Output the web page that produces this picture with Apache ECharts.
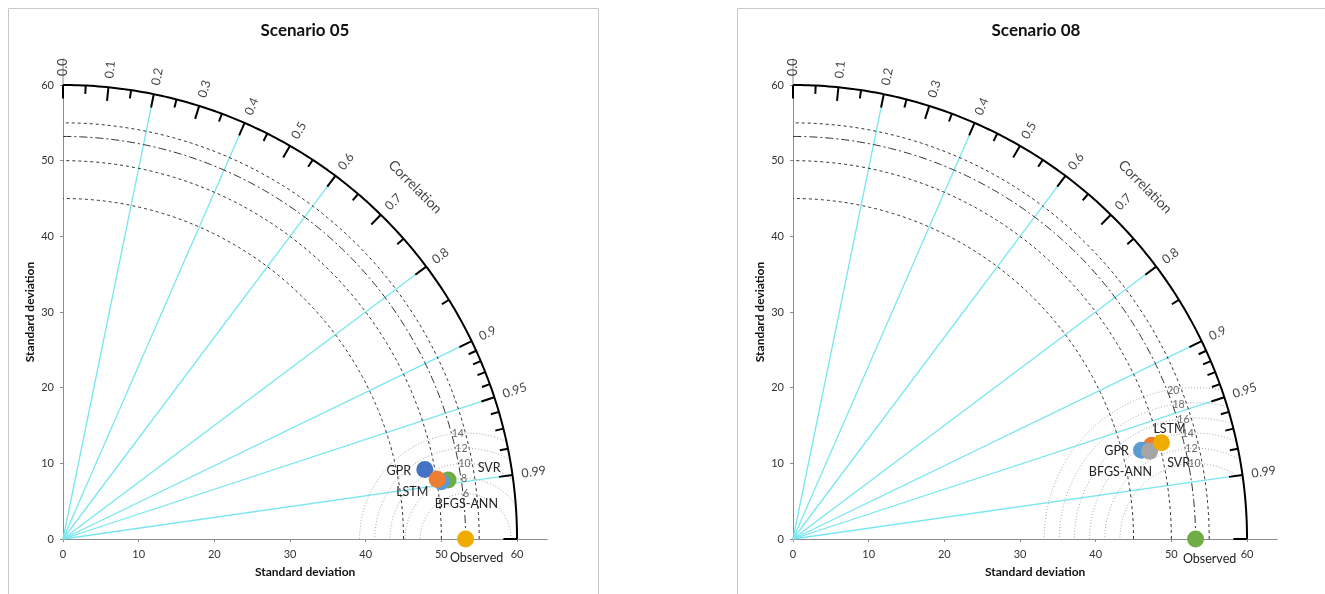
<!DOCTYPE html>
<html>
<head>
<meta charset="utf-8">
<script src="https://cdn.jsdelivr.net/npm/echarts@6/dist/echarts.min.js"></script>
<style>
html, body { margin: 0; padding: 0; background: #fff; }
#chart { width: 1325px; height: 594px; }
</style>
</head>
<body>
<div id="chart"></div>
<script>
// correlation scale of the Taylor diagram
var corrLabelValues = [0.0, 0.1, 0.2, 0.3, 0.4, 0.5, 0.6, 0.7, 0.8, 0.9, 0.95, 0.99];
var corrLabelTexts = ['0.0', '0.1', '0.2', '0.3', '0.4', '0.5', '0.6', '0.7', '0.8', '0.9', '0.95', '0.99'];
var corrMajorTicks = [0.0, 0.1, 0.2, 0.3, 0.4, 0.5, 0.6, 0.7, 0.8, 0.9, 0.95, 0.99, 1.0];
var corrMinorTicks = [0.05, 0.15, 0.25, 0.35, 0.45, 0.55, 0.65, 0.75, 0.85, 0.91, 0.92, 0.93, 0.94, 0.96, 0.97, 0.98];
var corrRays = [0.2, 0.4, 0.6, 0.8, 0.9, 0.95, 0.99];

// standard deviation scale
var stdTicks = [0, 10, 20, 30, 40, 50, 60];
var stdArcs = [45, 50, 55];
var stdMax = 60;

// Scenario 05
var s05Names = ['GPR', 'SVR', 'BFGS-ANN', 'LSTM'];
var s05Std = [48.69, 51.49, 50.57, 50.08];
var s05Corr = [0.982, 0.9885, 0.9887, 0.9875];
var s05ObsStd = 53.2;
var s05Rms = [6, 8, 10, 12, 14];

// Scenario 08
var s08Names = ['SVR', 'GPR', 'BFGS-ANN', 'LSTM'];
var s08Std = [48.99, 47.54, 48.51, 50.33];
var s08Corr = [0.9675, 0.969, 0.971, 0.9676];
var s08ObsStd = 53.2;
var s08Rms = [10, 12, 14, 16, 18, 20];

var FONT = 'Lato, "Open Sans", sans-serif';

// colours + label offsets (px) per marker
var s05Style = {
    'GPR':      {color: '#4472C4', offset: [-26, 2]},
    'SVR':      {color: '#70AD47', offset: [41, -12]},
    'BFGS-ANN': {color: '#5B9BD5', offset: [25, 22]},
    'LSTM':     {color: '#ED7D31', offset: [-25, 13]},
    'Observed': {color: '#EEAD00', offset: [11, 19]}
};
var s08Style = {
    'SVR':      {color: '#ED7D31', offset: [27, 18]},
    'GPR':      {color: '#5B9BD5', offset: [-25, 1]},
    'BFGS-ANN': {color: '#A5A5A5', offset: [-29, 21]},
    'LSTM':     {color: '#EEAD00', offset: [8, -14]},
    'Observed': {color: '#70AD47', offset: [14, 20]}
};

function polar(r, c) {
    return [r * c, r * Math.sqrt(Math.max(0, 1 - c * c))];
}

function panelSeries(idx, names, stds, corrs, obsStd, rmsList, style) {
    var list = [];
    function line(data, ls, z) {
        list.push({
            type: 'line', xAxisIndex: idx, yAxisIndex: idx, data: data,
            showSymbol: false, symbol: 'none', silent: true, clip: false,
            lineStyle: ls, z: z
        });
    }
    function arc(R) {
        var pts = [];
        for (var i = 0; i <= 180; i++) {
            var a = i / 180 * Math.PI / 2;
            pts.push([R * Math.cos(a), R * Math.sin(a)]);
        }
        return pts;
    }

    // correlation rays
    corrRays.forEach(function (c) {
        line([[0, 0], polar(stdMax, c)], {color: '#78E6F0', width: 1.3}, 2);
    });

    // std dev arcs
    stdArcs.forEach(function (R) {
        line(arc(R), {color: '#333', width: 1, type: [3, 3]}, 3);
    });
    line(arc(obsStd), {color: '#333', width: 1, type: [8, 3, 2, 3]}, 3);

    // centred RMS arcs around observed, clipped at outer arc
    rmsList.forEach(function (d) {
        var c = obsStd;
        var k = (stdMax * stdMax - c * c - d * d) / (2 * c * d);
        var phi0 = k >= 1 ? 0 : Math.acos(Math.max(-1, k));
        var pts = [];
        for (var i = 0; i <= 120; i++) {
            var p = phi0 + (Math.PI - phi0) * i / 120;
            pts.push([c + d * Math.cos(p), d * Math.sin(p)]);
        }
        line(pts, {color: '#aaa', width: 1, type: [1, 2]}, 3);
    });

    // outer arc + ticks
    line(arc(stdMax), {color: '#000', width: 2}, 5);
    corrMajorTicks.forEach(function (c) {
        line([polar(stdMax - 1.8, c), polar(stdMax, c)], {color: '#000', width: 2}, 5);
    });
    corrMinorTicks.forEach(function (c) {
        line([polar(stdMax - 1.1, c), polar(stdMax, c)], {color: '#000', width: 2}, 5);
    });
    // y axis extension above 60
    line([[0, stdMax], [0, 63.5]], {color: '#8c8c8c', width: 1}, 4);

    // correlation labels
    list.push({
        type: 'scatter', xAxisIndex: idx, yAxisIndex: idx, silent: true, clip: false,
        symbolSize: 0, z: 6,
        data: corrLabelValues.map(function (c, i) {
            return {
                name: corrLabelTexts[i], value: polar(61.2, c),
                label: {rotate: Math.acos(c) * 180 / Math.PI}
            };
        }),
        label: {
            show: true, position: 'inside', align: 'left', verticalAlign: 'middle',
            formatter: '{b}', color: '#111', fontSize: 12.5, fontFamily: FONT
        }
    });
    // axis title along the arc
    list.push({
        type: 'scatter', xAxisIndex: idx, yAxisIndex: idx, silent: true, clip: false,
        symbolSize: 0, z: 6,
        data: [{name: 'Correlation', value: polar(65.8, Math.SQRT1_2)}],
        label: {
            show: true, position: 'inside', rotate: -45, align: 'center', verticalAlign: 'middle',
            formatter: '{b}', color: '#111', fontSize: 14, fontFamily: FONT
        }
    });

    // RMS labels where each arc meets the observed std arc
    list.push({
        type: 'scatter', xAxisIndex: idx, yAxisIndex: idx, silent: true, clip: false,
        symbolSize: 0, z: 6,
        data: rmsList.map(function (d) {
            var x = obsStd - d * d / (2 * obsStd);
            return {name: String(d), value: [x, Math.sqrt(obsStd * obsStd - x * x)]};
        }),
        label: {
            show: true, position: 'inside', align: 'left', verticalAlign: 'middle',
            formatter: '{b}', color: '#444', fontSize: 10.5, fontFamily: FONT
        }
    });

    // models + observed
    var pts = names.map(function (n, i) {
        return {
            name: n, value: polar(stds[i], corrs[i]),
            itemStyle: {color: style[n].color}, label: {offset: style[n].offset}
        };
    });
    pts.unshift({
        name: 'Observed', value: [obsStd, 0],
        itemStyle: {color: style['Observed'].color}, label: {offset: style['Observed'].offset}
    });
    list.push({
        type: 'scatter', xAxisIndex: idx, yAxisIndex: idx, silent: true, clip: false,
        symbolSize: 17, z: 10, data: pts,
        itemStyle: {opacity: 1},
        label: {
            show: true, position: 'inside', formatter: '{b}',
            color: '#222', fontSize: 12.5, fontFamily: FONT
        }
    });
    return list;
}

function xAxisFor(idx) {
    return {
        gridIndex: idx, type: 'value', min: 0, max: 64, interval: 10,
        splitLine: {show: false},
        axisLine: {lineStyle: {color: '#8c8c8c'}},
        axisTick: {customValues: stdTicks, length: 3, lineStyle: {color: '#8c8c8c'}},
        axisLabel: {customValues: stdTicks, color: '#333', fontSize: 11, margin: 10, fontFamily: FONT},
        name: 'Standard deviation', nameLocation: 'middle', nameGap: 27,
        nameTextStyle: {fontWeight: 'bold', fontSize: 12, color: '#111', fontFamily: FONT}
    };
}
function yAxisFor(idx) {
    return {
        gridIndex: idx, type: 'value', min: 0, max: 60, interval: 10,
        splitLine: {show: false},
        axisLine: {lineStyle: {color: '#8c8c8c'}},
        axisTick: {length: 3, lineStyle: {color: '#8c8c8c'}},
        axisLabel: {color: '#333', fontSize: 11, margin: 9, fontFamily: FONT},
        name: 'Standard deviation', nameLocation: 'middle', nameGap: 27,
        nameTextStyle: {fontWeight: 'bold', fontSize: 12, color: '#111', fontFamily: FONT}
    };
}

var chart = echarts.init(document.getElementById('chart'));
var option = {
    animation: false,
    backgroundColor: '#fff',
    title: [
        {text: 'Scenario 05', left: 300, top: 17, textAlign: 'center',
         textStyle: {fontSize: 17, fontWeight: 'bold', color: '#111', fontFamily: FONT}},
        {text: 'Scenario 08', left: 1031, top: 17, textAlign: 'center',
         textStyle: {fontSize: 17, fontWeight: 'bold', color: '#111', fontFamily: FONT}}
    ],
    graphic: [
        {type: 'rect', shape: {x: 8.5, y: 8.5, width: 590, height: 600},
         style: {fill: 'none', stroke: '#c8c8c8', lineWidth: 1}, silent: true},
        {type: 'rect', shape: {x: 737.5, y: 8.5, width: 600, height: 600},
         style: {fill: 'none', stroke: '#c8c8c8', lineWidth: 1}, silent: true}
    ],
    grid: [
        {left: 63, top: 85, width: 484.3, height: 454},
        {left: 793, top: 85, width: 484.3, height: 454}
    ],
    xAxis: [xAxisFor(0), xAxisFor(1)],
    yAxis: [yAxisFor(0), yAxisFor(1)],
    series: panelSeries(0, s05Names, s05Std, s05Corr, s05ObsStd, s05Rms, s05Style)
        .concat(panelSeries(1, s08Names, s08Std, s08Corr, s08ObsStd, s08Rms, s08Style))
};
chart.setOption(option);
</script>
</body>
</html>
